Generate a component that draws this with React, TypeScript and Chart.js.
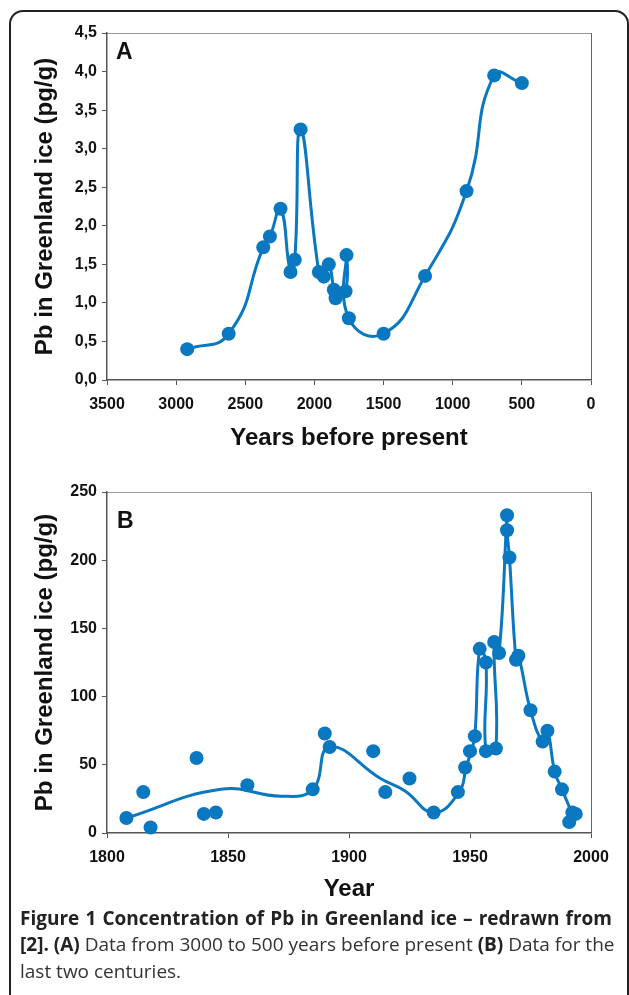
import React, { useEffect, useRef } from "react";
import { Chart, registerables } from "chart.js";

Chart.register(...registerables);

// ---------- Panel A : years before present ----------
const yearsA = [2920, 2620, 2370, 2322, 2245, 2173, 2142, 2100, 1968, 1932, 1896, 1860, 1847, 1775, 1768, 1751, 1500, 1200, 900, 700, 500];
const pbA = [0.4, 0.6, 1.72, 1.86, 2.22, 1.4, 1.56, 3.25, 1.4, 1.34, 1.5, 1.17, 1.06, 1.15, 1.62, 0.8, 0.6, 1.35, 2.45, 3.95, 3.85];
const xTickValsA = [0, 500, 1000, 1500, 2000, 2500, 3000, 3500];
const xTickLabelsA = ["0", "500", "1000", "1500", "2000", "2500", "3000", "3500"];
const yTickValsA = [0, 0.5, 1, 1.5, 2, 2.5, 3, 3.5, 4, 4.5];
const yTickLabelsA = ["0,0", "0,5", "1,0", "1,5", "2,0", "2,5", "3,0", "3,5", "4,0", "4,5"];

// ---------- Panel B : last two centuries ----------
const yearsB = [1808, 1815, 1818, 1837, 1840, 1845, 1858, 1885, 1890, 1892, 1910, 1915, 1925, 1935, 1945, 1948, 1950, 1952, 1954, 1956.6, 1956.6, 1960, 1960.7, 1962, 1965.3, 1965.3, 1966.3, 1969, 1970, 1975, 1980, 1982, 1985, 1988, 1991, 1992.3, 1993.7];
const pbB = [11, 30, 4, 55, 14, 15, 35, 32, 73, 63, 60, 30, 40, 15, 30, 48, 60, 71, 135, 125, 60, 140, 62, 132, 233, 222, 202, 127, 130, 90, 67, 75, 45, 32, 8, 15, 14];
// smoothed curve drawn through the data
const curveYearsB = [1808, 1847, 1872, 1885, 1892, 1913, 1923, 1935, 1945.5, 1948.4, 1950.5, 1952, 1954, 1956.6, 1956.6, 1960.7, 1960, 1962, 1965.3, 1965.3, 1966.3, 1969, 1970, 1975, 1980, 1982, 1985, 1988, 1992];
const curvePbB = [11, 32, 27, 32, 63, 40, 31, 15, 30, 48, 60, 71, 135, 125, 60, 62, 140, 132, 233, 222, 202, 127, 130, 90, 67, 75, 45, 32, 15];
const xTickValsB = [1800, 1850, 1900, 1950, 2000];
const xTickLabelsB = ["1800", "1850", "1900", "1950", "2000"];
const yTickValsB = [0, 50, 100, 150, 200, 250];
const yTickLabelsB = ["0", "50", "100", "150", "200", "250"];

const BLUE = "#0a78c0";
const AXIS_FONT = "'Liberation Sans', Arial, Helvetica, sans-serif";
const TEXT = "#111111";

const framePlugin = {
  id: "frame",
  beforeDraw(chart: any) {
    const { ctx, chartArea: a } = chart;
    ctx.save();
    ctx.lineWidth = 1;
    ctx.strokeStyle = "#9a9a9a";
    ctx.beginPath();
    ctx.moveTo(a.left, a.top + 0.5);
    ctx.lineTo(a.right, a.top + 0.5);
    ctx.stroke();
    ctx.strokeStyle = "#666666";
    ctx.beginPath();
    ctx.moveTo(a.right + 0.5, a.top);
    ctx.lineTo(a.right + 0.5, a.bottom);
    ctx.stroke();
    ctx.restore();
  },
};

function lookup(vals: number[], labels: string[]) {
  return (v: any) => {
    const i = vals.findIndex((t) => Math.abs(t - Number(v)) < 1e-6);
    return i >= 0 ? labels[i] : "";
  };
}

function axisCommon(o: any) {
  return {
    type: "linear",
    min: o.min,
    max: o.max,
    reverse: !!o.reverse,
    afterFit: o.afterFit,
    ticks: {
      stepSize: o.step,
      autoSkip: false,
      maxRotation: 0,
      padding: o.tickPad,
      color: TEXT,
      font: { family: AXIS_FONT, size: 16, weight: "bold" },
      callback: lookup(o.tickVals, o.tickLabels),
    },
    grid: { drawOnChartArea: false, drawTicks: true, tickLength: 5, color: "#555555", lineWidth: 1 },
    border: { display: true, color: "#555555", width: 1.5 },
    title: {
      display: true,
      text: o.title,
      color: TEXT,
      font: { family: AXIS_FONT, size: 24, weight: "bold" },
      padding: o.titlePad,
    },
  };
}

function buildOptions(p: any) {
  return {
    animation: false,
    responsive: false,
    events: [],
    layout: { padding: { left: 0, top: p.padTop, right: 38, bottom: 0 } },
    plugins: { legend: { display: false }, tooltip: { enabled: false }, title: { display: false } },
    scales: {
      x: axisCommon({
        min: p.xMin, max: p.xMax, step: p.xStep, reverse: p.reverse,
        tickVals: p.xTickVals, tickLabels: p.xTickLabels, tickPad: 10,
        title: p.xTitle, titlePad: { top: 0, bottom: p.xTitleBottom },
        afterFit: (s: any) => { s.height = p.xHeight; },
      }),
      y: axisCommon({
        min: p.yMin, max: p.yMax, step: p.yStep,
        tickVals: p.yTickVals, tickLabels: p.yTickLabels, tickPad: 5,
        title: "Pb in Greenland ice (pg/g)", titlePad: { top: 30.6, bottom: 0 },
        afterFit: (s: any) => { s.width = 107; },
      }),
    },
  };
}

function ChartA() {
  const ref = useRef<HTMLCanvasElement>(null);
  useEffect(() => {
    const chart = new Chart(ref.current as HTMLCanvasElement, {
      type: "line",
      data: {
        datasets: [
          {
            data: yearsA.map((x, i) => ({ x, y: pbA[i] })),
            borderColor: BLUE,
            backgroundColor: BLUE,
            borderWidth: 3,
            tension: 0.5,
            pointRadius: 7,
            pointBackgroundColor: BLUE,
            pointBorderWidth: 0,
            clip: false,
          } as any,
        ],
      },
      options: buildOptions({
        padTop: 33, xMin: 0, xMax: 3500, xStep: 500, reverse: true,
        xTickVals: xTickValsA, xTickLabels: xTickLabelsA,
        xTitle: "Years before present", xTitleBottom: 7.6, xHeight: 80,
        yMin: 0, yMax: 4.5, yStep: 0.5, yTickVals: yTickValsA, yTickLabels: yTickLabelsA,
      }) as any,
      plugins: [framePlugin],
    });
    return () => chart.destroy();
  }, []);
  return (
    <canvas ref={ref} width={629} height={460}
      style={{ position: "absolute", left: 0, top: 0, width: 629, height: 460, display: "block" }} />
  );
}

function ChartB() {
  const ref = useRef<HTMLCanvasElement>(null);
  useEffect(() => {
    const chart = new Chart(ref.current as HTMLCanvasElement, {
      type: "line",
      data: {
        datasets: [
          {
            data: yearsB.map((x, i) => ({ x, y: pbB[i] })),
            showLine: false,
            pointRadius: 7,
            pointBackgroundColor: BLUE,
            backgroundColor: BLUE,
            borderColor: BLUE,
            pointBorderWidth: 0,
            clip: false,
          } as any,
          {
            data: curveYearsB.map((x, i) => ({ x, y: curvePbB[i] })),
            borderColor: BLUE,
            borderWidth: 3,
            tension: 0.45,
            pointRadius: 0,
            clip: false,
          } as any,
        ],
      },
      options: buildOptions({
        padTop: 32, xMin: 1800, xMax: 2000, xStep: 50, reverse: false,
        xTickVals: xTickValsB, xTickLabels: xTickLabelsB,
        xTitle: "Year", xTitleBottom: 6.6, xHeight: 77,
        yMin: 0, yMax: 250, yStep: 50, yTickVals: yTickValsB, yTickLabels: yTickLabelsB,
      }) as any,
      plugins: [framePlugin],
    });
    return () => chart.destroy();
  }, []);
  return (
    <canvas ref={ref} width={629} height={450}
      style={{ position: "absolute", left: 0, top: 460, width: 629, height: 450, display: "block" }} />
  );
}

const capFont = "'Open Sans', 'Noto Sans', sans-serif";
const lineBase: React.CSSProperties = {
  position: "absolute",
  left: 20,
  width: 592,
  fontFamily: capFont,
  fontSize: 19,
  lineHeight: "26.5px",
  whiteSpace: "nowrap",
  color: "#333333",
};

export default function App() {
  return (
    <div style={{ position: "absolute", left: 0, top: 0, width: 629, height: 995, overflow: "hidden", background: "#ffffff" }}>
      <div style={{ position: "absolute", left: 9, top: 10, width: 620, height: 1100, border: "2px solid #222222", borderRadius: 14, boxSizing: "border-box" }} />
      <ChartA />
      <ChartB />
      <div style={{ position: "absolute", left: 116, top: 40, fontFamily: AXIS_FONT, fontWeight: "bold", fontSize: 23, lineHeight: "23px", color: TEXT }}>A</div>
      <div style={{ position: "absolute", left: 117, top: 509, fontFamily: AXIS_FONT, fontWeight: "bold", fontSize: 23, lineHeight: "23px", color: TEXT }}>B</div>
      <div style={{ ...lineBase, top: 904.5, fontWeight: "bold", color: "#222222", textAlign: "justify", textAlignLast: "justify" as any }}>
        Figure 1 Concentration of Pb in Greenland ice – redrawn from
      </div>
      <div style={{ ...lineBase, top: 931, textAlign: "justify", textAlignLast: "justify" as any }}>
        <b style={{ color: "#222222" }}>[2]. (A)</b> Data from 3000 to 500 years before present <b style={{ color: "#222222" }}>(B)</b> Data for the
      </div>
      <div style={{ ...lineBase, top: 957.5 }}>last two centuries.</div>
    </div>
  );
}
